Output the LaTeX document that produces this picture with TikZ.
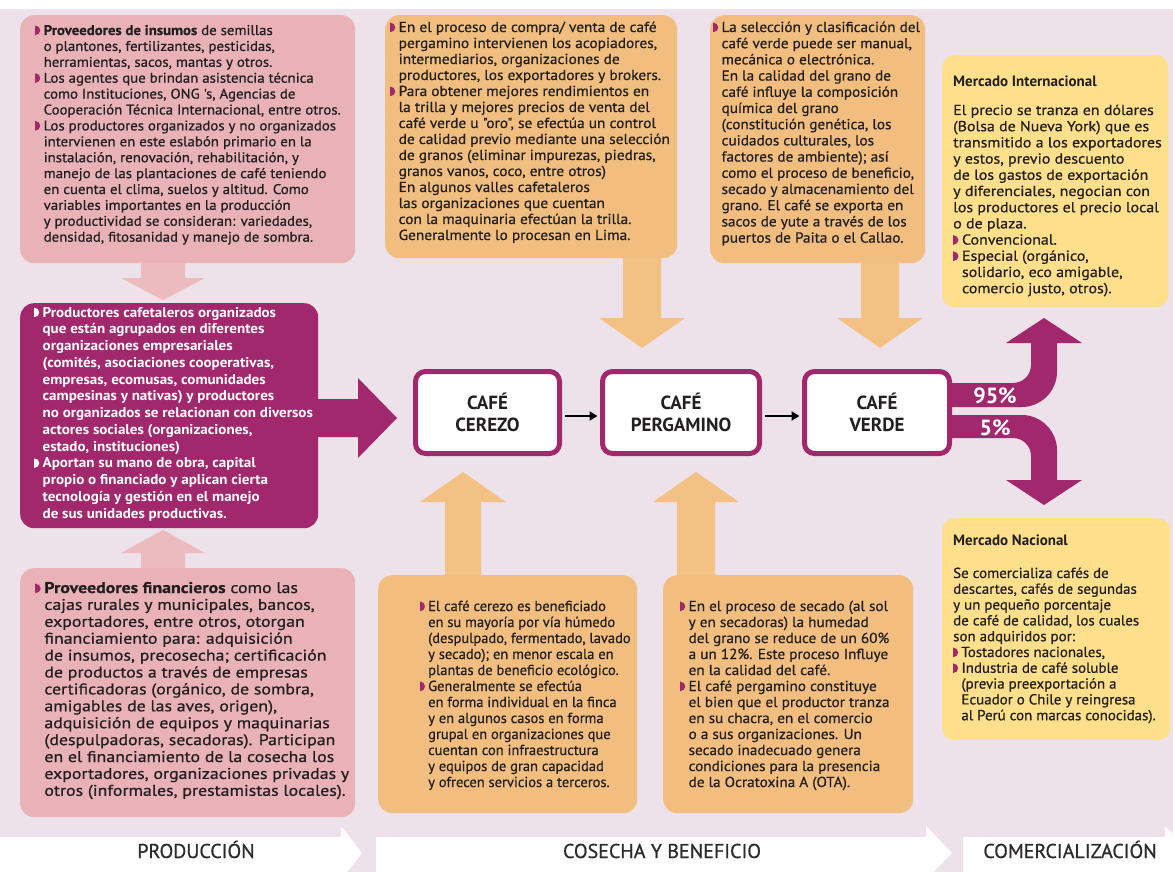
\documentclass[tikz,border=0pt]{standalone}
\usepackage{fontspec}
\setmainfont{PT Sans}
\newfontfamily\bodyf{PT Sans}[FakeBold=0.7]
\usepackage{graphicx}
\usetikzlibrary{arrows.meta}
\definecolor{bg}{HTML}{EDE1EA}
\definecolor{pinkbox}{HTML}{E8B2B6}
\definecolor{pinkarr}{HTML}{EBBBBE}
\definecolor{orbox}{HTML}{F2BE80}
\definecolor{orarr}{HTML}{F3C184}
\definecolor{yelbox}{HTML}{FEE08C}
\definecolor{mag}{HTML}{A1286D}
\definecolor{txt}{HTML}{231F20}
\definecolor{bandtxt}{HTML}{2E2A2B}
\newcommand\tb[1]{\vtop{\lineskiplimit=-100pt\lineskip=0pt\halign{##\hfil\cr#1\crcr}}}
\newcommand\bulshape[1]{\hbox to 8pt{\tikz[x=1pt,y=1pt,baseline=0pt]\fill[#1] (-0.3,-0.2)--(-0.3,9.4) arc[start angle=90,end angle=-90,x radius=4.8,y radius=4.8]--cycle;\hss}}
\newcommand\bul{\bulshape{mag}}
\newcommand\bulw{\bulshape{white}}
\newcommand\ci{\hbox to 8pt{}}
\newcommand\fatv[7]{%
  \pgfmathsetmacro\fhb{#3+((#2>#3)?1:-1)*#6}%
  \fill[#7] ({#1-#4},#2) -- ({#1-#4},\fhb) -- ({#1-#5},\fhb) -- (#1,#3) -- ({#1+#5},\fhb) -- ({#1+#4},\fhb) -- ({#1+#4},#2) -- cycle;}
\tikzset{
  box/.style={rectangle, rounded corners=14pt, anchor=north west, inner sep=0pt, draw=none},
  ybox/.style={rectangle, rounded corners=12pt, anchor=north west, inner sep=0pt, draw=none, fill=yelbox},
  tx/.style={anchor=base west, inner sep=0pt, text=txt},
  cafe/.style={rectangle, rounded corners=10pt, draw=mag, line width=5pt, fill=white, align=center, text=txt, font=\fontsize{19}{22}\selectfont\bfseries, inner sep=0pt},
  blk/.style={line width=2.6pt, -{Triangle[length=8pt,width=9pt]}, shorten <=2.5pt, shorten >=2.5pt},
  bandlbl/.style={anchor=base, inner sep=0pt, text=bandtxt, font=\bodyf\fontsize{20}{24}\selectfont},
  pct/.style={inner sep=0pt, text=white, font=\fontsize{22}{24}\selectfont\bfseries}
}
\begin{document}
\begin{tikzpicture}[x=1pt,y=-1pt]
\useasboundingbox (0,0) rectangle (1173,872);
\fill[white] (0,0) rectangle (1173,872);
\fill[bg] (0,9) rectangle (1173,872);
% bottom bands
\fill[white] (0,837) -- (341,837) -- (341,826) -- (362,853) -- (341,880) -- (0,880) -- cycle;
\fill[white] (376,837) -- (926,837) -- (926,826) -- (952,853) -- (926,880) -- (376,880) -- cycle;
\fill[white] (963,837) -- (1165,837) -- (1165,826) -- (1191,853) -- (1165,880) -- (963,880) -- cycle;
\node[bandlbl] (l1) at (196,858) {PRODUCCIÓN};
\node[bandlbl] (l2) at (662,858) {COSECHA Y BENEFICIO};
\node[bandlbl] (l3) at (1070,858) {COMERCIALIZACIÓN};
% fat arrows
\fatv{163}{258}{300}{22}{42}{22}{pinkarr}
\fatv{163}{573}{530}{22}{42}{23}{pinkarr}
\fatv{642}{250}{348}{19}{43}{30}{orarr}
\fatv{880}{258}{348}{19}{43}{30}{orarr}
\fatv{463}{580}{472}{18}{43}{30}{orarr}
\fatv{696}{580}{472}{19}{43}{30}{orarr}
\fill[mag] (310,399) -- (358,399) -- (358,378) -- (397,418) -- (358,458) -- (358,437) -- (310,437) -- cycle;
% split arrows
\fill[mag] (946,383) -- (1013,383) .. controls (1023,383) and (1031,375) .. (1031,365) -- (1031,343) -- (1006,343) -- (1044,318) -- (1082,343) -- (1057,343) -- (1057,372) .. controls (1057,391) and (1041,407) .. (1022,407) -- (946,407) -- cycle;
\fill[mag] (946,415) -- (1022,415) .. controls (1041,415) and (1057,431) .. (1057,450) -- (1057,480) -- (1082,480) -- (1044,505) -- (1006,480) -- (1031,480) -- (1031,456) .. controls (1031,446) and (1023,438) .. (1013,438) -- (946,438) -- cycle;
% boxes
\node[box, fill=pinkbox, minimum width=335, minimum height=248] (b1) at (20,15) {};
\node[box, fill=orbox, minimum width=292, minimum height=243] (bA) at (385,15) {};
\node[box, fill=orbox, minimum width=215, minimum height=248] (bB) at (710,15) {};
\node[ybox, minimum width=226, minimum height=252] (yI) at (942,55) {};
\node[box, fill=mag, minimum width=298, minimum height=225] (mb) at (20,303) {};
\node[box, fill=pinkbox, minimum width=335, minimum height=249] (b3) at (20,568) {};
\node[box, fill=orbox, minimum width=259, minimum height=238] (bC) at (378,575) {};
\node[box, fill=orbox, minimum width=250, minimum height=238] (bD) at (663,575) {};
\node[ybox, minimum width=228, minimum height=222] (yN) at (942,518) {};
% cafe boxes
\node[cafe, minimum width=144, minimum height=82] (c1) at (487.5,412.5) {CAFÉ\\CEREZO};
\node[cafe, minimum width=157, minimum height=82] (c2) at (681,412.5) {CAFÉ\\PERGAMINO};
\node[cafe, minimum width=145, minimum height=82] (c3) at (877,412.5) {CAFÉ\\VERDE};
\draw[blk] ([yshift=-3.5pt]c1.east) -- ([yshift=-3.5pt]c2.west);
\draw[blk] ([yshift=-3.5pt]c2.east) -- ([yshift=-3.5pt]c3.west);
\node[pct] (p95) at (995,396) {95\%};
\node[pct] (p5) at (995,428) {5\%};
% texts
\node[tx, font=\bodyf\fontsize{14}{15.9}\selectfont] (t1) at (35,35) {\scalebox{1.06}[1]{\tb{%
\bul\textbf{Proveedores de insumos} de semillas\cr
\ci o plantones, fertilizantes, pesticidas,\cr
\ci herramientas, sacos, mantas y otros.\cr
\bul Los agentes que brindan asistencia técnica\cr
\ci como Instituciones, ONG 's, Agencias de\cr
\ci Cooperación Técnica Internacional, entre otros.\cr
\bul Los productores organizados y no organizados\cr
\ci intervienen en este eslabón primario en la\cr
\ci instalación, renovación, rehabilitación, y\cr
\ci manejo de las plantaciones de café teniendo\cr
\ci en cuenta el clima, suelos y altitud. Como\cr
\ci variables importantes en la producción\cr
\ci y productividad se consideran: variedades,\cr
\ci densidad, fitosanidad y manejo de sombra.}}};
\node[tx, font=\bodyf\fontsize{14.5}{16}\selectfont] (tA) at (390,32) {\scalebox{1.06}[1]{\tb{%
\bul En el proceso de compra/ venta de café\cr
\ci pergamino intervienen los acopiadores,\cr
\ci intermediarios, organizaciones de\cr
\ci productores, los exportadores y brokers.\cr
\bul Para obtener mejores rendimientos en\cr
\ci la trilla y mejores precios de venta del\cr
\ci café verde u "oro", se efectúa un control\cr
\ci de calidad previo mediante una selección\cr
\ci de granos (eliminar impurezas, piedras,\cr
\ci granos vanos, coco, entre otros)\cr
\ci En algunos valles cafetaleros\cr
\ci las organizaciones que cuentan\cr
\ci con la maquinaria efectúan la trilla.\cr
\ci Generalmente lo procesan en Lima.}}};
\node[tx, font=\bodyf\fontsize{14.5}{16.2}\selectfont] (tB) at (713,32) {\scalebox{1.05}[1]{\tb{%
\bul La selección y clasificación del\cr
\ci café verde puede ser manual,\cr
\ci mecánica o electrónica.\cr
\ci En la calidad del grano de\cr
\ci café influye la composición\cr
\ci química del grano\cr
\ci (constitución genética, los\cr
\ci cuidados culturales, los\cr
\ci factores de ambiente); así\cr
\ci como el proceso de beneficio,\cr
\ci secado y almacenamiento del\cr
\ci grano. El café se exporta en\cr
\ci sacos de yute a través de los\cr
\ci puertos de Paita o el Callao.}}};
\node[tx, font=\fontsize{15}{16}\selectfont\bfseries] (hI) at (953,87) {Mercado Internacional};
\node[tx, font=\bodyf\fontsize{14.5}{16.2}\selectfont] (tI) at (953,115) {\scalebox{1.1}[1]{\tb{%
El precio se tranza en dólares\cr
(Bolsa de Nueva York) que es\cr
transmitido a los exportadores\cr
y estos, previo descuento\cr
de los gastos de exportación\cr
y diferenciales, negocian con\cr
los productores el precio local\cr
o de plaza.\cr
\bul Convencional.\cr
\bul Especial (orgánico,\cr
\ci solidario, eco amigable,\cr
\ci comercio justo, otros).}}};
\node[tx, text=white, font=\fontsize{14.2}{16.75}\selectfont\bfseries] (tM) at (34,317) {\scalebox{1.06}[1]{\tb{%
\bulw Productores cafetaleros organizados\cr
\ci que están agrupados en diferentes\cr
\ci organizaciones empresariales\cr
\ci (comités, asociaciones cooperativas,\cr
\ci empresas, ecomusas, comunidades\cr
\ci campesinas y nativas) y productores\cr
\ci no organizados se relacionan con diversos\cr
\ci actores sociales (organizaciones,\cr
\ci estado, instituciones)\cr
\bulw Aportan su mano de obra, capital\cr
\ci propio o financiado y aplican cierta\cr
\ci tecnología y gestión en el manejo\cr
\ci de sus unidades productivas.}}};
\node[tx, font=\bodyf\fontsize{15.5}{16.9}\selectfont] (t3) at (35,593) {\scalebox{1.15}[1]{\tb{%
\bul\textbf{Proveedores financieros} como las\cr
\ci cajas rurales y municipales, bancos,\cr
\ci exportadores, entre otros, otorgan\cr
\ci financiamiento para: adquisición\cr
\ci de insumos, precosecha; certificación\cr
\ci de productos a través de empresas\cr
\ci certificadoras (orgánico, de sombra,\cr
\ci amigables de las aves, origen),\cr
\ci adquisición de equipos y maquinarias\cr
\ci (despulpadoras, secadoras). Participan\cr
\ci en el financiamiento de la cosecha los\cr
\ci exportadores, organizaciones privadas y\cr
\ci otros (informales, prestamistas locales).}}};
\node[tx, font=\bodyf\fontsize{14.5}{16}\selectfont] (tC) at (420,611) {\tb{%
\bul El café cerezo es beneficiado\cr
\ci en su mayoría por vía húmedo\cr
\ci (despulpado, fermentado, lavado\cr
\ci y secado); en menor escala en\cr
\ci plantas de beneficio ecológico.\cr
\bul Generalmente se efectúa\cr
\ci en forma individual en la finca\cr
\ci y en algunos casos en forma\cr
\ci grupal en organizaciones que\cr
\ci cuentan con infraestructura\cr
\ci y equipos de gran capacidad\cr
\ci y ofrecen servicios a terceros.}};
\node[tx, font=\bodyf\fontsize{14.5}{16}\selectfont] (tD) at (680,611) {\scalebox{1.05}[1]{\tb{%
\bul En el proceso de secado (al sol\cr
\ci y en secadoras) la humedad\cr
\ci del grano se reduce de un 60\%\cr
\ci a un 12\%. Este proceso Influye\cr
\ci en la calidad del café.\cr
\bul El café pergamino constituye\cr
\ci el bien que el productor tranza\cr
\ci en su chacra, en el comercio\cr
\ci o a sus organizaciones. Un\cr
\ci secado inadecuado genera\cr
\ci condiciones para la presencia\cr
\ci de la Ocratoxina A (OTA).}}};
\node[tx, font=\fontsize{15}{16}\selectfont\bfseries] (hN) at (953,545) {Mercado Nacional};
\node[tx, font=\bodyf\fontsize{14.5}{15.8}\selectfont] (tN) at (953,578) {\scalebox{1.03}[1]{\tb{%
Se comercializa cafés de\cr
descartes, cafés de segundas\cr
y un pequeño porcentaje\cr
de café de calidad, los cuales\cr
son adquiridos por:\cr
\bul Tostadores nacionales,\cr
\bul Industria de café soluble\cr
\ci (previa preexportación a\cr
\ci Ecuador o Chile y reingresa\cr
\ci al Perú con marcas conocidas).}}};
\end{tikzpicture}
\end{document}
